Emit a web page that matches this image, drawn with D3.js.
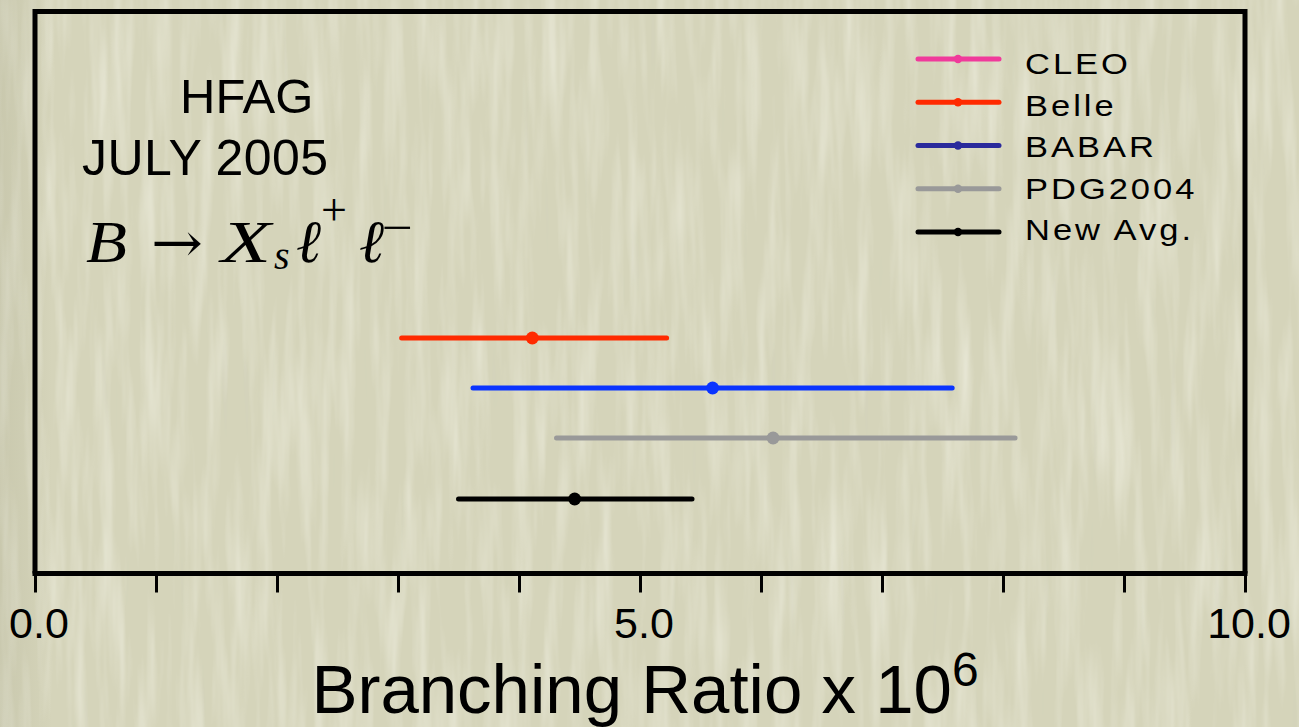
<!DOCTYPE html>
<html>
<head>
<meta charset="utf-8">
<script src="https://cdn.jsdelivr.net/npm/d3@7/dist/d3.min.js"></script>
<style>
  html, body { margin: 0; padding: 0; background: #d5d4ba; }
  svg { display: block; }
</style>
</head>
<body>
<svg id="chart" width="1299" height="727"></svg>
<script>
// B -> Xs l+ l- branching ratio measurements (x 10^-6)
const experiments = ["Belle", "BABAR", "PDG2004", "New Avg."];
const centralValues = [4.11, 5.60, 6.10, 4.46];
const lowerEdges = [3.03, 3.62, 4.31, 3.50];
const upperEdges = [5.22, 7.58, 8.10, 5.43];
const barColors = ["#ff2a00", "#0a34ff", "#999999", "#000000"];

const legendLabels = ["CLEO", "Belle", "BABAR", "PDG2004", "New Avg."];
const legendColors = ["#f03a9b", "#ff2a00", "#2a2a9c", "#999999", "#000000"];

const xDomain = [0, 10];
const xMinorTicks = d3.range(0, 11, 1);
const xLabelTicks = [0, 5, 10];

const width = 1299, height = 727;
const box = { left: 35, right: 1245, top: 11.5, bottom: 573.5 };

const svg = d3.select("#chart");
const defs = svg.append("defs");

// paper texture: soft vertical fibres
const tex = defs.append("filter").attr("id", "paper")
  .attr("x", 0).attr("y", 0).attr("width", "100%").attr("height", "100%");
tex.append("feTurbulence").attr("type", "fractalNoise")
  .attr("baseFrequency", "0.07 0.006").attr("numOctaves", 3).attr("seed", 7);
tex.append("feColorMatrix").attr("type", "matrix")
  .attr("values", "0 0 0 0 1  0 0 0 0 1  0 0 0 0 0.94  0.8 0 0 0 -0.34");

const texDark = defs.append("filter").attr("id", "paperDark")
  .attr("x", 0).attr("y", 0).attr("width", "100%").attr("height", "100%");
texDark.append("feTurbulence").attr("type", "fractalNoise")
  .attr("baseFrequency", "0.1 0.006").attr("numOctaves", 2).attr("seed", 3);
texDark.append("feColorMatrix").attr("type", "matrix")
  .attr("values", "0 0 0 0 0.62  0 0 0 0 0.62  0 0 0 0 0.52  -0.5 0 0 0 0.2");

const vign = defs.append("linearGradient").attr("id", "edge")
  .attr("x1", 0).attr("x2", 1).attr("y1", 0).attr("y2", 0);
vign.append("stop").attr("offset", "0").attr("stop-color", "#8a8a6c").attr("stop-opacity", 0.16);
vign.append("stop").attr("offset", "0.04").attr("stop-color", "#8a8a6c").attr("stop-opacity", 0.0);
vign.append("stop").attr("offset", "1").attr("stop-color", "#8a8a6c").attr("stop-opacity", 0.0);

svg.append("rect").attr("width", width).attr("height", height).attr("fill", "#d5d4ba");
svg.append("rect").attr("width", width).attr("height", height).attr("filter", "url(#paperDark)");
svg.append("rect").attr("width", width).attr("height", height).attr("filter", "url(#paper)");
svg.append("rect").attr("width", width).attr("height", height).attr("fill", "url(#edge)");

const x = d3.scaleLinear().domain(xDomain).range([box.left, box.right]);

// measurement rows, with a wider gap before the average
const rowStep = 50, averageGap = 11;
const rowY = d3.scalePoint().domain(experiments).range([338, 338 + rowStep * (experiments.length - 1)]);
const yOf = (name, i) => rowY(name) + (i === experiments.length - 1 ? averageGap : 0);

const sans = "'Liberation Sans', Arial, Helvetica, sans-serif";

// frame
svg.append("path")
  .attr("d", `M${box.left},${box.bottom} V${box.top} H${box.right} V${box.bottom}`)
  .attr("fill", "none").attr("stroke", "#000").attr("stroke-width", 5);

// x axis
const axis = d3.axisBottom(x).tickValues(xMinorTicks).tickSize(19).tickFormat("");
const axisG = svg.append("g").attr("transform", `translate(0,${box.bottom})`).call(axis);
axisG.select(".domain").attr("stroke", "#000").attr("stroke-width", 5)
  .attr("d", `M${box.left - 2.5},0H${box.right + 2.5}`);
axisG.selectAll(".tick line").attr("stroke", "#000").attr("stroke-width", 3);

svg.append("g").selectAll("text").data(xLabelTicks).join("text")
  .attr("x", d => x(d) + 4).attr("y", 638)
  .attr("text-anchor", "middle")
  .attr("font-family", sans).attr("font-size", 43).attr("fill", "#000")
  .text(d => d3.format(".1f")(d));

const title = svg.append("text").attr("x", 645).attr("y", 713)
  .attr("text-anchor", "middle").attr("font-family", sans).attr("font-size", 69).attr("fill", "#000");
title.append("tspan").text("Branching Ratio x 10");
title.append("tspan").attr("font-size", 48).attr("dy", -27).text("6");

// error bars
const rows = experiments.map((name, i) => ({
  name, c: centralValues[i], lo: lowerEdges[i], hi: upperEdges[i], color: barColors[i], y: yOf(name, i)
}));
const barG = svg.append("g");
barG.selectAll("line").data(rows).join("line")
  .attr("x1", d => x(d.lo)).attr("x2", d => x(d.hi))
  .attr("y1", d => d.y).attr("y2", d => d.y)
  .attr("stroke", d => d.color).attr("stroke-width", 5).attr("stroke-linecap", "round");
barG.selectAll("circle").data(rows).join("circle")
  .attr("cx", d => x(d.c)).attr("cy", d => d.y).attr("r", 6.5)
  .attr("fill", d => d.color);

// legend
const legend = svg.append("g");
const legY = d3.scalePoint().domain(legendLabels).range([59, 232]);
const legTextY = d3.scalePoint().domain(legendLabels).range([74, 240]);
legendLabels.forEach((name, i) => {
  const y = legY(name);
  legend.append("line").attr("x1", 918).attr("x2", 999).attr("y1", y).attr("y2", y)
    .attr("stroke", legendColors[i]).attr("stroke-width", 5).attr("stroke-linecap", "round");
  legend.append("circle").attr("cx", 958).attr("cy", y).attr("r", 4.2).attr("fill", legendColors[i]);
  legend.append("text")
    .attr("transform", `translate(1025,${legTextY(name)}) scale(1.15,1)`)
    .attr("font-family", sans).attr("font-size", 30).attr("letter-spacing", 2.6).attr("fill", "#000")
    .text(name);
});

// annotation
svg.append("text").attr("x", 180).attr("y", 113)
  .attr("font-family", sans).attr("font-size", 49).attr("fill", "#000").text("HFAG");
svg.append("text").attr("x", 82).attr("y", 175)
  .attr("font-family", sans).attr("font-size", 50).attr("letter-spacing", 0.4).attr("fill", "#000").text("JULY 2005");

const serif = "'Liberation Serif', 'Times New Roman', serif";
const formula = svg.append("g").attr("font-family", serif).attr("fill", "#000");
formula.append("text").attr("x", 86).attr("y", 262).attr("font-size", 60).attr("font-style", "italic")
  .attr("textLength", 41).attr("lengthAdjust", "spacingAndGlyphs").text("B");
formula.append("text").attr("x", 151).attr("y", 262).attr("font-size", 56)
  .attr("font-family", "'DejaVu Serif', serif")
  .attr("textLength", 52).attr("lengthAdjust", "spacingAndGlyphs").text("→");
formula.append("text").attr("x", 221).attr("y", 262).attr("font-size", 60).attr("font-style", "italic")
  .attr("textLength", 50).attr("lengthAdjust", "spacingAndGlyphs").text("X");
formula.append("text").attr("x", 274).attr("y", 269).attr("font-size", 40).attr("font-style", "italic").text("s");
formula.append("text").attr("x", 296).attr("y", 262).attr("font-size", 60).attr("font-style", "italic").text("ℓ");
formula.append("text").attr("x", 321).attr("y", 225).attr("font-size", 46).text("+");
formula.append("text").attr("x", 359).attr("y", 262).attr("font-size", 60).attr("font-style", "italic").text("ℓ");
formula.append("text").attr("x", 382).attr("y", 243).attr("font-size", 46)
  .attr("textLength", 31).attr("lengthAdjust", "spacingAndGlyphs").text("−");
</script>
</body>
</html>
